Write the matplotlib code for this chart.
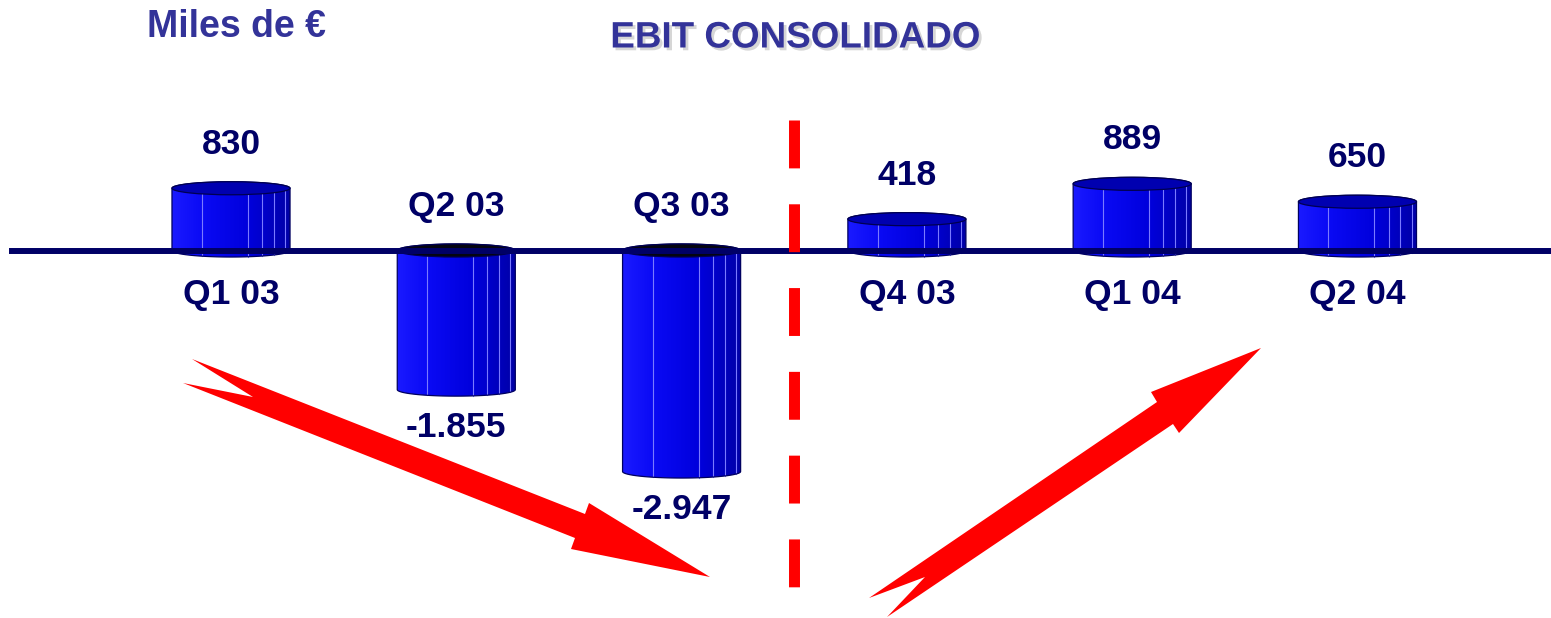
import numpy as np
import matplotlib
matplotlib.use('Agg')
import matplotlib.pyplot as plt
import matplotlib.patheffects as pe
from matplotlib.patches import PathPatch, Ellipse, Polygon
from matplotlib.path import Path
from matplotlib.colors import LinearSegmentedColormap

# EBIT consolidado por trimestre (miles de euros)
quarters = ['Q1 03', 'Q2 03', 'Q3 03', 'Q4 03', 'Q1 04', 'Q2 04']
ebit = [830, -1855, -2947, 418, 889, 650]
value_labels = ['830', '-1.855', '-2.947', '418', '889', '650']

W, H = 1551, 618
FONT = 'Liberation Sans'
NAVY = '#000066'
TITLE_BLUE = '#333399'

fig = plt.figure(figsize=(W / 100, H / 100), dpi=100)
ax = fig.add_axes([0, 0, 1, 1])
ax.axis('off')

BAR_W = 0.524   # cylinder width, in category units
ELL = 87        # half height of the elliptical caps, in value units

body_cmap = LinearSegmentedColormap.from_list('body', [
    (0.0, '#1a1aff'), (0.25, '#0a0af5'), (0.64, '#0000dc'),
    (0.76, '#0000cc'), (0.86, '#0000bc'), (1.0, '#0000a6')])
facet_fracs = [0.254, 0.644, 0.763, 0.864, 0.958]
grad = np.linspace(0, 1, 256).reshape(1, -1)

for i, v in enumerate(ebit):
    lo, hi = min(0, v), max(0, v)
    x0, x1 = i - BAR_W / 2, i + BAR_W / 2
    t = np.linspace(0, np.pi, 60)
    bottom = np.column_stack([i - BAR_W / 2 * np.cos(t), lo - ELL * np.sin(t)])
    top = np.column_stack([i + BAR_W / 2 * np.cos(t), hi + ELL * np.sin(t)])
    verts = np.vstack([[x0, hi], bottom, top, [x0, hi]])
    outline = PathPatch(Path(verts), fc='none', ec='#000060', lw=0.9, zorder=3)
    ax.add_patch(outline)

    # shaded body, clipped to the cylinder silhouette
    im = ax.imshow(grad, cmap=body_cmap, aspect='auto', interpolation='bilinear',
                   extent=[x0, x1, lo - ELL, hi + ELL], zorder=2)
    im.set_clip_path(outline)

    # light facet edges
    for f in facet_fracs:
        x = x0 + f * BAR_W
        u = (x - i) / (BAR_W / 2)
        dy = ELL * np.sqrt(max(0.0, 1 - u * u))
        ax.plot([x, x], [hi - dy, lo - dy], color='#7a7aff', lw=0.8, zorder=2.5)

    cap_color = '#0000b0' if v > 0 else '#050510'
    ax.add_patch(Ellipse((i, hi), BAR_W, 2 * ELL, fc=cap_color, ec='#000050',
                         lw=0.9, zorder=3))

    txt = dict(ha='center', va='center', fontsize=25.5, fontweight='bold',
               color=NAVY, family=FONT, textcoords='offset pixels', zorder=6)
    if v > 0:
        ax.annotate(value_labels[i], (i, v), xytext=(0, 44), **txt)
        ax.annotate(quarters[i], (i, 0), xytext=(0, -44), **txt)
    else:
        ax.annotate(quarters[i], (i, 0), xytext=(0, 44), **txt)
        ax.annotate(value_labels[i], (i, v), xytext=(0, -38), **txt)

ax.set_xlim(-1.0253, 5.859)
ax.set_ylim(-4900, 3340)

# zero line
ax.axhline(0, xmin=12 / W, xmax=1, color=NAVY, lw=4.3, zorder=4)

# separator between 2003 and 2004
ax.plot([2.5, 2.5], [1 - 120 / H, 0], transform=ax.get_xaxis_transform(),
        color='#ff0000', lw=7.9, dashes=(48 / 11, 36 / 11), zorder=5)

# trend arrows (pixel outlines)
down_arrow = [(192, 359), (585, 514), (589, 503), (710, 577),
              (571, 549), (575, 538), (183, 383), (253, 397)]
up_arrow = [(869, 598), (1157, 402), (1151, 392), (1261, 348),
            (1179, 433), (1173, 424), (887, 617), (925, 577)]
for shape in (down_arrow, up_arrow):
    pts = [(x / W, 1 - y / H) for x, y in shape]
    fig.patches.append(Polygon(pts, closed=True, fc='#ff0000', ec='none',
                               transform=fig.transFigure, zorder=5))

fig.text(236 / W, 1 - 27 / H, 'Miles de €', ha='center', va='center',
         fontsize=27, fontweight='bold', color=TITLE_BLUE, family=FONT)
fig.text(795 / W, 1 - 38 / H, 'EBIT CONSOLIDADO', ha='center', va='center',
         fontsize=26.5, fontweight='bold', color=TITLE_BLUE, family=FONT,
         path_effects=[pe.withSimplePatchShadow(offset=(2, -2),
                                                shadow_rgbFace='#999999', alpha=0.4)])

fig.savefig('out.png', dpi=100)
